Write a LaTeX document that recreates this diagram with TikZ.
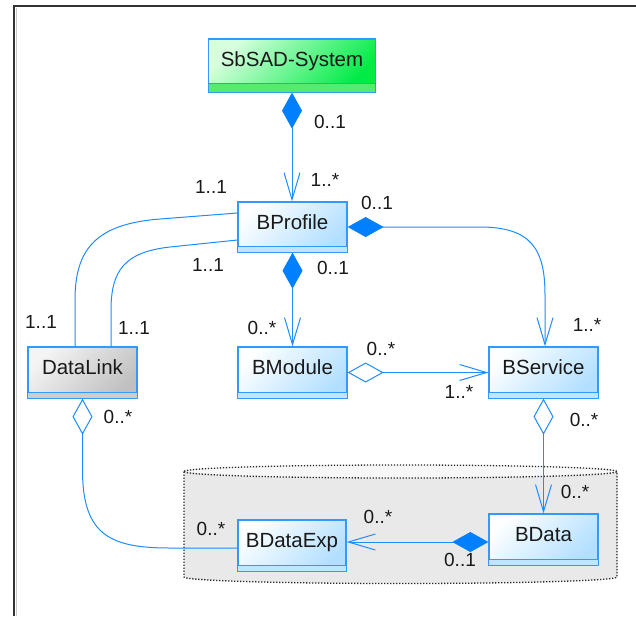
\documentclass[tikz,border=0pt]{standalone}
\usepackage{fontspec}
\setmainfont{Liberation Sans}
\usetikzlibrary{arrows.meta}

\definecolor{umlline}{RGB}{30,140,255}
\definecolor{umldia}{RGB}{0,128,255}
\definecolor{boxedge}{RGB}{51,153,255}
\definecolor{bluelight}{RGB}{252,254,255}
\definecolor{bluedeep}{RGB}{178,223,255}
\definecolor{bluestrip}{RGB}{192,230,255}
\definecolor{greenlight}{RGB}{215,255,222}
\definecolor{greendeep}{RGB}{0,235,70}
\definecolor{greenstrip}{RGB}{85,235,115}
\definecolor{graylight}{RGB}{244,244,244}
\definecolor{graydeep}{RGB}{192,192,192}
\definecolor{graystrip}{RGB}{205,205,205}
\definecolor{pkgfill}{RGB}{233,233,233}
\definecolor{framecol}{RGB}{50,50,50}
\definecolor{frameshade}{RGB}{200,200,200}

\tikzset{
  classbox/.style={draw=boxedge, line width=1.3pt, inner sep=0pt, shading=axis},
  bluebox/.style={classbox, top color=bluelight, bottom color=bluedeep, shading angle=45},
  greenbox/.style={classbox, top color=greenlight, bottom color=greendeep, shading angle=45},
  graybox/.style={classbox, top color=graylight, bottom color=graydeep, shading angle=45},
  edgeline/.style={draw=boxedge, line width=1.3pt},
  classtext/.style={font=\fontsize{20.5}{24}\selectfont, inner sep=0pt, anchor=base, text=black!90},
  mult/.style={font=\fontsize{19}{22}\selectfont, inner sep=0pt, text=black!90},
  conn/.style={draw=umlline, line width=1pt},
  compnav/.style={arrows={Diamond[length=36pt,width=20pt,umldia]-Straight Barb[length=27pt,width=16pt]}},
  aggnav/.style={arrows={Diamond[open,length=36pt,width=20pt]-Straight Barb[length=27pt,width=16pt]}},
  aggonly/.style={arrows={Diamond[open,length=36pt,width=20pt]-}},
  pkgline/.style={draw=black!85, line width=1.3pt, dash pattern=on 1.3pt off 1.7pt},
}

% class box: name, style, strip colour, strip height, centre, width, height, title
\newcommand\umlclass[8]{%
  \node[#2, minimum width=#6pt, minimum height=#7pt] (#1) at (#5) {};
  \fill[#3] ([shift={(0.7pt,0.7pt)}]#1.south west) rectangle ([shift={(-0.7pt,#4pt)}]#1.south east);
  \draw[edgeline] ([yshift=#4pt]#1.south west) -- ([yshift=#4pt]#1.south east);
  \node[classtext] (#1-title) at ([yshift=#4pt/2-5.5pt]#1.center) {#8};
}

\begin{document}
\begin{tikzpicture}[x=1pt,y=-1pt]
\useasboundingbox (0,0) rectangle (636,616);
\fill[white] (0,0) rectangle (636,616);

% window frame
\draw[frameshade, line width=1pt] (16.5,8) -- (16.5,616);
\draw[framecol, line width=2pt] (14,616) -- (14,6) -- (636,6);

% package drawn as a cylinder
\fill[pkgfill] (184,471.5) -- (184,577)
  arc[start angle=180, end angle=360, x radius=216.5pt, y radius=6.5pt]
  -- (617,471.5)
  arc[start angle=0, end angle=180, x radius=216.5pt, y radius=6.5pt] -- cycle;
\fill[black!3] (184,471.5) arc[start angle=180, end angle=540, x radius=216.5pt, y radius=6.5pt];
\draw[pkgline] (184,471.5) -- (184,577)
  arc[start angle=180, end angle=360, x radius=216.5pt, y radius=6.5pt]
  -- (617,471.5)
  arc[start angle=0, end angle=180, x radius=216.5pt, y radius=6.5pt];
\draw[pkgline] (184,471.5)
  arc[start angle=180, end angle=360, x radius=216.5pt, y radius=6.5pt];

% classes
\umlclass{sbsad}{greenbox}{greenstrip}{9}{292,65.5}{167}{53}{SbSAD-System}
\umlclass{bprofile}{bluebox}{bluestrip}{6.5}{292.5,227}{109}{50}{BProfile}
\umlclass{datalink}{graybox}{graystrip}{6.5}{82.5,372.5}{109}{51}{DataLink}
\umlclass{bmodule}{bluebox}{bluestrip}{6.5}{292.5,372.5}{109}{51}{BModule}
\umlclass{bservice}{bluebox}{bluestrip}{6.5}{543.5,372.5}{109}{51}{BService}
\umlclass{bdataexp}{bluebox}{bluestrip}{6.5}{292,545.5}{108}{51}{BDataExp}
\umlclass{bdata}{bluebox}{bluestrip}{6.5}{543.5,539.5}{109}{51}{BData}

% associations
\draw[conn, compnav] (sbsad.south) -- (sbsad.south |- bprofile.north);
\draw[conn, compnav] (bprofile.east) -- (480,227)
  .. controls (532,227) and (545,250) .. (545,295) -- ([xshift=1.5pt]bservice.north);
\draw[conn, compnav] (bprofile.south) -- (bmodule.north);
\draw[conn, aggnav] (bmodule.east) -- (bservice.west);
\draw[conn, aggnav] (bservice.south) -- (bdata.north);
\draw[conn, compnav] ([yshift=-2.5pt]bdata.west) -- ([yshift=3.5pt]bdataexp.east);
\draw[conn, aggonly] (datalink.south) -- (82.5,470)
  .. controls (82.5,535) and (110,548) .. (170,548) -- ([yshift=-2.5pt]bdataexp.west);
\draw[conn] ([yshift=14pt]bprofile.west) -- (160,219)
  .. controls (95,224) and (75,250) .. (75,300) -- ([xshift=-7.5pt]datalink.north);
\draw[conn] ([yshift=-13pt]bprofile.west) -- (170,247)
  .. controls (125,252) and (111,270) .. (111,310) -- ([xshift=28.5pt]datalink.north);

% multiplicities
\node[mult] (m-sys) at (330,122) {0..1};
\node[mult] (m-prof-sys) at (325,180) {1..*};
\node[mult] (m-prof-dl1) at (211,187) {1..1};
\node[mult] (m-prof-svc) at (377,203) {0..1};
\node[mult] (m-prof-dl2) at (208,265) {1..1};
\node[mult] (m-prof-mod) at (333,268) {0..1};
\node[mult] (m-dl-a) at (41,322) {1..1};
\node[mult] (m-dl-b) at (134,328) {1..1};
\node[mult] (m-mod) at (262,328) {0..*};
\node[mult] (m-svc-prof) at (587,325) {1..*};
\node[mult] (m-mod-svc) at (381,349) {0..*};
\node[mult] (m-svc-mod) at (459,392) {1..*};
\node[mult] (m-svc-data) at (584,420) {0..*};
\node[mult] (m-dl-exp) at (118,417) {0..*};
\node[mult] (m-exp-dl) at (211,529) {0..*};
\node[mult] (m-exp-data) at (378,517) {0..*};
\node[mult] (m-data-svc) at (575,492) {0..*};
\node[mult] (m-data-exp) at (460,560) {0..1};
\end{tikzpicture}
\end{document}
